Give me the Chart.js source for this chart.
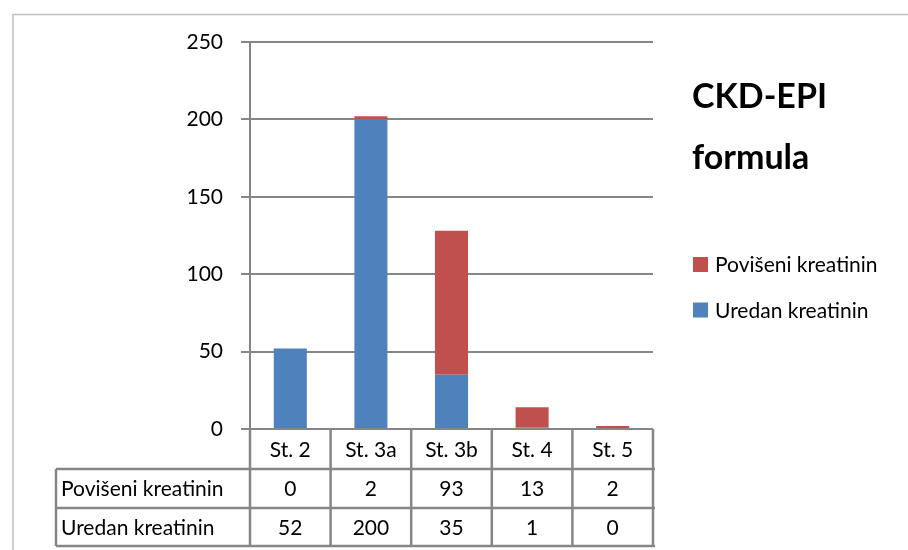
<!DOCTYPE html>
<html>
<head>
<meta charset="utf-8">
<script src="https://cdn.jsdelivr.net/npm/chart.js@4/dist/chart.umd.min.js"></script>
<style>
  html, body { margin: 0; padding: 0; background: #fff; }
  #wrap { width: 908px; height: 550px; }
</style>
</head>
<body>
<div id="wrap"><canvas id="ckd" width="908" height="550"></canvas></div>
<script>
// Data
const categories = ['St. 2', 'St. 3a', 'St. 3b', 'St. 4', 'St. 5'];
const povisenKreatinin = [0, 2, 93, 13, 2];
const uredanKreatinin = [52, 200, 35, 1, 0];
const seriesNames = ['Povišeni kreatinin', 'Uredan kreatinin'];
const titleLines = ['CKD-EPI', 'formula'];

const FONT = 'Lato, "Open Sans", sans-serif';
const LINE = '#868686';
const RED = '#C0504D';
const BLUE = '#4F81BD';

// draws frame, title, legend and the data table under the plot
const extras = {
  id: 'extras',
  beforeDraw(chart) {
    const ctx = chart.ctx;
    ctx.save();
    ctx.strokeStyle = '#BFBFBF';
    ctx.lineWidth = 1.5;
    ctx.beginPath();
    ctx.moveTo(13, 550);
    ctx.lineTo(13, 14.5);
    ctx.lineTo(908, 14.5);
    ctx.stroke();
    ctx.restore();
  },
  afterDraw(chart) {
    const ctx = chart.ctx;
    const x = chart.scales.x;
    const area = chart.chartArea;
    const n = categories.length;
    const colW = (area.right - area.left) / n;
    const tableLeft = 56;
    const rowTops = [area.bottom, area.bottom + 40, area.bottom + 79, area.bottom + 117];

    ctx.save();
    // title
    ctx.fillStyle = '#000';
    ctx.font = 'bold 34px ' + FONT;
    ctx.textAlign = 'left';
    ctx.textBaseline = 'alphabetic';
    ctx.fillText(titleLines[0], 692, 108);
    ctx.fillText(titleLines[1], 692, 169);

    // legend
    ctx.font = '21px ' + FONT;
    ctx.textBaseline = 'middle';
    const legendColors = [RED, BLUE];
    const legendY = [264.5, 310];
    seriesNames.forEach((name, i) => {
      ctx.fillStyle = legendColors[i];
      ctx.fillRect(693, legendY[i] - 7.5, 15, 15);
      ctx.fillStyle = '#000';
      ctx.fillText(name, 715, legendY[i] + 1);
    });

    // table grid
    ctx.strokeStyle = LINE;
    ctx.lineWidth = 2.5;
    ctx.beginPath();
    for (let r = 1; r < rowTops.length; r++) {
      ctx.moveTo(tableLeft, rowTops[r]);
      ctx.lineTo(area.right + 2, rowTops[r]);
    }
    ctx.moveTo(tableLeft, rowTops[1]);
    ctx.lineTo(tableLeft, rowTops[3]);
    for (let i = 0; i <= n; i++) {
      const px = area.left + i * colW;
      ctx.moveTo(px, rowTops[0]);
      ctx.lineTo(px, rowTops[3]);
    }
    ctx.stroke();

    // table text
    ctx.fillStyle = '#000';
    ctx.font = '21px ' + FONT;
    ctx.textBaseline = 'middle';
    const rows = [povisenKreatinin, uredanKreatinin];
    categories.forEach((c, i) => {
      const cx = x.getPixelForValue(i);
      ctx.textAlign = 'center';
      ctx.fillText(c, cx, (rowTops[0] + rowTops[1]) / 2 + 1);
      rows.forEach((vals, r) => {
        ctx.fillText(String(vals[i]), cx, (rowTops[r + 1] + rowTops[r + 2]) / 2 + 1);
      });
    });
    ctx.textAlign = 'left';
    seriesNames.forEach((name, r) => {
      ctx.fillText(name, tableLeft + 5, (rowTops[r + 1] + rowTops[r + 2]) / 2 + 1);
    });
    ctx.restore();
  }
};

new Chart(document.getElementById('ckd'), {
  type: 'bar',
  data: {
    labels: categories,
    datasets: [
      {
        label: seriesNames[1],
        data: uredanKreatinin,
        backgroundColor: BLUE,
        borderWidth: 0,
        barPercentage: 0.5,
        categoryPercentage: 0.82
      },
      {
        label: seriesNames[0],
        data: povisenKreatinin,
        backgroundColor: RED,
        borderWidth: 0,
        barPercentage: 0.5,
        categoryPercentage: 0.82
      }
    ]
  },
  options: {
    responsive: false,
    animation: false,
    layout: { padding: { top: 42, left: 0, right: 255, bottom: 121 } },
    plugins: {
      legend: { display: false },
      tooltip: { enabled: false }
    },
    scales: {
      x: {
        stacked: true,
        display: false
      },
      y: {
        stacked: true,
        min: 0,
        max: 250,
        afterFit: (s) => { s.width = 250; },
        ticks: {
          stepSize: 50,
          padding: 18,
          color: '#000',
          font: { family: FONT, size: 21 }
        },
        grid: { color: LINE, lineWidth: 2, tickLength: 9 },
        border: { color: LINE, width: 2 }
      }
    }
  },
  plugins: [extras]
});
</script>
</body>
</html>
